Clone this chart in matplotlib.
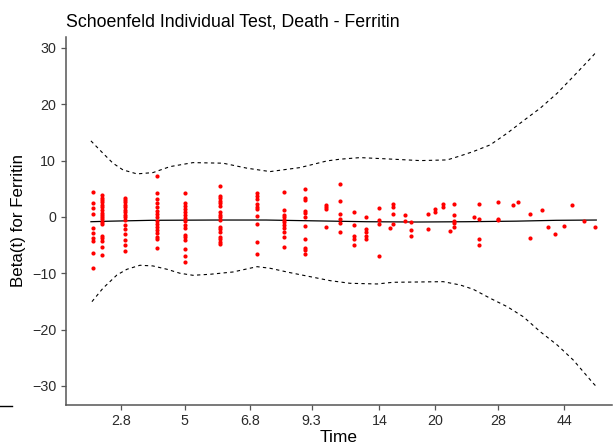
import matplotlib
matplotlib.use("Agg")
import matplotlib.pyplot as plt
from matplotlib.lines import Line2D

plt.rcParams["font.family"] = ["Liberation Sans", "DejaVu Sans"]

# Transformed time position of each group of residuals and the residual values in it
col_x = [0.27, 0.36, 0.59, 0.91, 1.19, 1.54, 1.91, 2.18, 2.39, 2.60, 2.74, 2.88, 3.00,
         3.13, 3.24, 3.27, 3.39, 3.45, 3.62, 3.69, 3.77, 3.84, 3.88, 4.08, 4.13, 4.32,
         4.47, 4.52, 4.64, 4.76, 4.82, 4.89, 4.98, 5.06, 5.18, 5.29]
col_vals = [
    [4.49, 2.54, 1.55, 0.48, -1.90, -2.79, -3.78, -4.26, -6.45, -9.11],
    [3.85, 3.43, 3.02, 2.61, 2.13, 1.72, 1.24, 0.76, 0.36, -0.05, -0.41, -0.83, -1.24,
     -3.37, -3.78, -4.26, -5.28, -6.70],
    [3.32, 3.02, 2.72, 2.13, 1.72, 1.24, 0.83, 0.36, -0.05, -0.53, -1.42, -2.13, -3.02,
     -4.09, -4.97, -5.99],
    [7.28, 4.21, 3.20, 2.43, 1.72, 1.12, 0.53, -0.05, -0.66, -1.24, -1.83, -2.31, -2.90,
     -3.50, -3.91, -5.45],
    [4.32, 2.43, 1.95, 1.42, 0.94, 0.36, -0.23, -0.66, -1.42, -1.90, -3.20, -3.61, -4.09,
     -5.68, -6.87, -8.05],
    [5.51, 3.73, 3.32, 2.84, 2.43, 2.01, 0.83, 0.36, -0.05, -0.53, -1.72, -2.13, -2.61,
     -3.61, -3.96, -4.39, -4.80],
    [4.21, 3.78, 3.20, 2.31, 1.83, 1.42, 0.23, -1.24, -4.39, -6.63],
    [4.44, 1.24, 0.36, -0.05, -0.53, -0.94, -1.42, -2.01, -2.61, -3.50, -5.38],
    [5.03, 3.43, 3.02, 1.12, 0.66, -0.05, -1.60, -3.96, -5.56, -5.86, -6.52],
    [2.13, 1.83, 1.47, -1.72],
    [5.86, 2.84, 0.59, -0.30, -1.07, -2.72],
    [0.94, -1.42, -3.37, -3.96, -4.97],
    [0.00, -2.13, -2.61, -3.37, -3.91],
    [1.55, -0.59, -1.30, -6.98],
    [-1.95],
    [2.36, 1.83, 0.59, -1.19],
    [0.30, -0.66],
    [-0.89, -2.36, -3.37],
    [0.59, -2.08],
    [1.42, 0.94],
    [2.36, 1.72],
    [-2.54],
    [2.36, 0.30, -0.66, -1.12, -1.78],
    [0.00],
    [2.36, -0.36, -3.96, -4.92],
    [2.66, -0.30, -0.48],
    [2.18],
    [2.66],
    [0.59, -3.68],
    [1.24],
    [-1.78],
    [-3.02],
    [-1.60],
    [2.18],
    [-0.66],
    [-1.78],
]

# Smoothed beta(t) and its confidence band
fit_x = [0.25, 0.45, 0.85, 1.5, 2.0, 2.5, 3.0, 3.5, 4.0, 4.5, 4.9, 5.3]
fit_y = [-0.85, -0.75, -0.6, -0.55, -0.55, -0.7, -0.85, -0.9, -0.85, -0.75, -0.6, -0.55]

upper_x = [0.25, 0.37, 0.47, 0.57, 0.71, 0.87, 1.04, 1.27, 1.57, 1.81, 2.04, 2.34, 2.61,
           2.74, 2.94, 3.21, 3.54, 3.81, 3.94, 4.07, 4.24, 4.41, 4.57, 4.74, 4.91, 5.07,
           5.26, 5.30]
upper_y = [13.5, 11.31, 9.54, 8.35, 7.64, 7.87, 8.93, 9.64, 9.54, 8.65, 8.05, 8.76, 9.95,
           10.25, 10.53, 10.3, 10.0, 10.12, 10.83, 11.6, 12.79, 14.87, 17.05, 19.31, 21.97,
           24.92, 28.47, 29.3]

lower_x = [0.26, 0.37, 0.51, 0.61, 0.74, 0.87, 1.01, 1.14, 1.27, 1.44, 1.67, 1.91, 2.04,
           2.24, 2.44, 2.64, 2.84, 3.11, 3.27, 3.51, 3.77, 3.94, 4.07, 4.24, 4.41, 4.57,
           4.74, 4.91, 5.07, 5.27, 5.30]
lower_y = [-15.04, -12.66, -10.3, -9.29, -8.58, -8.7, -9.29, -10.0, -10.36, -10.18, -9.77,
           -8.83, -9.11, -9.89, -10.6, -11.31, -11.78, -11.9, -11.6, -11.55, -11.49, -12.08,
           -12.84, -14.44, -15.93, -17.71, -20.37, -22.74, -25.4, -29.54, -30.1]

# Tick positions on the transformed time axis and the real times they stand for
tick_pos = [0.554, 1.187, 1.843, 2.456, 3.132, 3.69, 4.318, 4.979]
tick_labels = ["2.8", "5", "6.8", "9.3", "14", "20", "28", "44"]

fig = plt.figure(figsize=(6.16, 4.47), dpi=100)
ax = fig.add_axes([0.107, 0.095, 0.887, 0.823])

for x, vals in zip(col_x, col_vals):
    ax.scatter([x] * len(vals), vals, s=9, color="#FF0000", linewidths=0, zorder=3)

ax.plot(fit_x, fit_y, color="black", linewidth=0.9)
ax.plot(upper_x, upper_y, color="black", linewidth=0.8, linestyle=(0, (3, 3)))
ax.plot(lower_x, lower_y, color="black", linewidth=0.8, linestyle=(0, (3, 3)))

ax.set_xlim(0, 5.46)
ax.set_ylim(-33.3, 32.0)
ax.set_xticks(tick_pos)
ax.set_xticklabels(tick_labels)
ax.set_yticks([-30, -20, -10, 0, 10, 20, 30])

for side in ["top", "right"]:
    ax.spines[side].set_visible(False)
for side in ["left", "bottom"]:
    ax.spines[side].set_color("#555555")
    ax.spines[side].set_linewidth(1.1)
ax.tick_params(axis="both", colors="#555555", labelcolor="#2b2b2b", labelsize=10.3,
               length=3.5, width=0.9)

ax.set_xlabel("Time", fontsize=12.5, labelpad=1)
ax.set_ylabel("Beta(t) for Ferritin", fontsize=12.2, labelpad=4)
ax.set_title("Schoenfeld Individual Test, Death - Ferritin", fontsize=12.8, loc="left",
             pad=7)

# stray legend key left at the bottom edge
fig.add_artist(Line2D([0.0, 0.02], [1 - 406 / 447, 1 - 406 / 447], color="black",
                      linewidth=1.0))

fig.savefig("out.png", dpi=100)
